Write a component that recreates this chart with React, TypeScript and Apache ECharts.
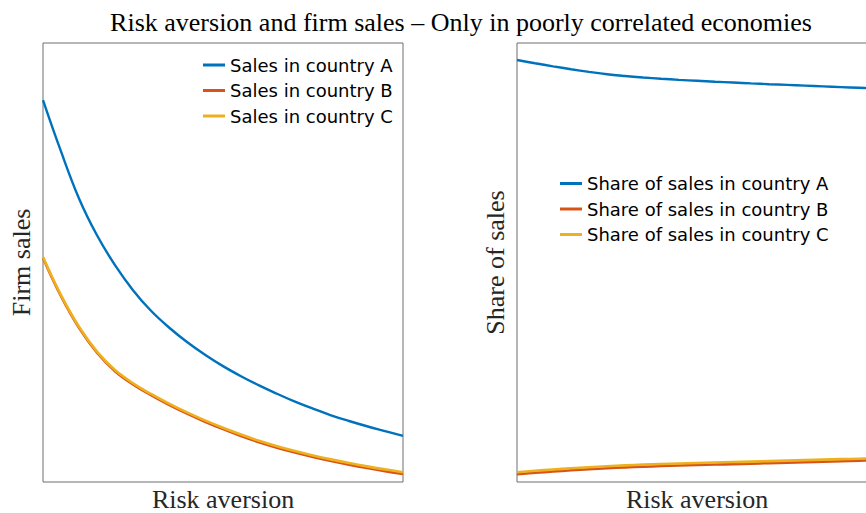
import React, { useEffect, useRef } from "react";
import * as echarts from "echarts";

// ---- data (normalised; the original shows no tick labels) ----
const riskAversion = [
  0, 0.05, 0.1, 0.15, 0.2, 0.25, 0.3, 0.35, 0.4, 0.45, 0.5,
  0.55, 0.6, 0.65, 0.7, 0.75, 0.8, 0.85, 0.9, 0.95, 1.0,
];

const salesA = [
  0.870, 0.753, 0.646, 0.562, 0.494, 0.437, 0.390, 0.352, 0.319, 0.290, 0.264,
  0.241, 0.220, 0.201, 0.183, 0.167, 0.152, 0.139, 0.127, 0.116, 0.105,
];
const salesB = [
  0.5105, 0.4233, 0.3512, 0.2946, 0.2525, 0.2224, 0.1978, 0.1757, 0.1556, 0.1373, 0.1204,
  0.1048, 0.0907, 0.0783, 0.0671, 0.057, 0.0478, 0.0394, 0.0317, 0.0247, 0.0183,
];
const salesC = [
  0.5125, 0.4255, 0.3535, 0.297, 0.255, 0.225, 0.2005, 0.1785, 0.1585, 0.1403, 0.1235,
  0.108, 0.094, 0.0817, 0.0706, 0.0606, 0.0515, 0.0432, 0.0356, 0.0287, 0.0223,
];

const shareA = [
  0.9613, 0.9539, 0.9469, 0.9403, 0.9342, 0.9287, 0.9247, 0.9214, 0.9186, 0.9161, 0.9139,
  0.9118, 0.9099, 0.908, 0.9062, 0.9045, 0.9028, 0.9011, 0.8995, 0.8979, 0.8964,
];
const shareB = [
  0.0175, 0.0209, 0.0239, 0.0266, 0.0291, 0.0314, 0.0333, 0.0349, 0.0363, 0.0375, 0.0386,
  0.0397, 0.0408, 0.0419, 0.043, 0.0441, 0.0452, 0.0463, 0.0474, 0.0485, 0.0496,
];
const shareC = [
  0.0221, 0.0255, 0.0285, 0.0312, 0.0337, 0.036, 0.0379, 0.0395, 0.0409, 0.0421, 0.0432,
  0.0443, 0.0454, 0.0465, 0.0476, 0.0487, 0.0498, 0.0509, 0.052, 0.0531, 0.0542,
];

const titleText = "Risk aversion and firm sales \u2013 Only in poorly correlated economies";
const xName = "Risk aversion";
const yNameLeft = "Firm sales";
const yNameRight = "Share of sales";
const leftNames = ["Sales in country A", "Sales in country B", "Sales in country C"];
const rightNames = [
  "Share of sales in country A",
  "Share of sales in country B",
  "Share of sales in country C",
];

const COLORS = ["#0072BD", "#D95319", "#EDB120"];
const SERIF = "'Liberation Serif', 'Times New Roman', serif";
const SANS = "'DejaVu Sans', 'Liberation Sans', sans-serif";

const pairs = (ys: number[]) => riskAversion.map((x, i) => [x, ys[i]]);

export default function App() {
  const ref = useRef<HTMLDivElement>(null);

  useEffect(() => {
    if (!ref.current) return;
    const chart = echarts.init(ref.current, null, { renderer: "svg" });

    const axisName = {
      fontFamily: SERIF,
      fontSize: 26,
      color: "#262626",
    };

    const xAxisBase = (gridIndex: number) => ({
      type: "value",
      gridIndex,
      min: 0,
      max: 1,
      axisLine: { show: false },
      axisTick: { show: false },
      axisLabel: { show: false },
      splitLine: { show: false },
      name: xName,
      nameLocation: "middle",
      nameGap: 4,
      nameTextStyle: { ...axisName, verticalAlign: "top" },
    });

    const yAxisBase = (gridIndex: number, name: string) => ({
      type: "value",
      gridIndex,
      min: 0,
      max: 1,
      axisLine: { show: false },
      axisTick: { show: false },
      axisLabel: { show: false },
      splitLine: { show: false },
      name,
      nameLocation: "middle",
      nameGap: 9,
      nameRotate: 90,
      nameTextStyle: { ...axisName },
    });

    const mkSeries = (name: string, data: number[], idx: number, gi: number, width: number) => ({
      type: "line",
      name,
      xAxisIndex: gi,
      yAxisIndex: gi,
      data: pairs(data),
      smooth: 0.4,
      showSymbol: false,
      symbol: "none",
      lineStyle: { color: COLORS[idx], width },
      itemStyle: { color: COLORS[idx] },
    });

    const legendBase = {
      orient: "vertical",
      icon: "rect",
      itemWidth: 22,
      itemHeight: 3,
      itemGap: 5.5,
      padding: 0,
      selectedMode: false,
      textStyle: { fontFamily: SANS, fontSize: 18, color: "#000", lineHeight: 20 },
    };

    const gridBase = {
      top: 43,
      width: 360,
      height: 439,
      show: true,
      borderColor: "#6e6e6e",
      borderWidth: 1,
      backgroundColor: "transparent",
      containLabel: false,
      outerBoundsMode: "none",
    };

    chart.setOption({
      animation: false,
      backgroundColor: "#ffffff",
      grid: [
        { ...gridBase, left: 43 },
        { ...gridBase, left: 517 },
      ],
      xAxis: [xAxisBase(0), xAxisBase(1)],
      yAxis: [yAxisBase(0, yNameLeft), yAxisBase(1, yNameRight)],
      legend: [
        { ...legendBase, data: leftNames, left: 203, top: 55 },
        { ...legendBase, data: rightNames, left: 560, top: 173.5 },
      ],
      graphic: [
        {
          type: "text",
          x: 461,
          y: 22,
          style: {
            text: titleText,
            font: `26px ${SERIF}`,
            fill: "#000",
            textAlign: "center",
            textVerticalAlign: "middle",
          },
        },
      ],
      series: [
        mkSeries(leftNames[0], salesA, 0, 0, 2.4),
        mkSeries(leftNames[1], salesB, 1, 0, 2.6),
        mkSeries(leftNames[2], salesC, 2, 0, 2.6),
        mkSeries(rightNames[0], shareA, 0, 1, 2.4),
        mkSeries(rightNames[1], shareB, 1, 1, 2.6),
        mkSeries(rightNames[2], shareC, 2, 1, 2.6),
      ],
    });

    return () => chart.dispose();
  }, []);

  return (
    <div
      ref={ref}
      style={{ position: "fixed", left: 0, top: 0, width: 866, height: 513 }}
    />
  );
}
